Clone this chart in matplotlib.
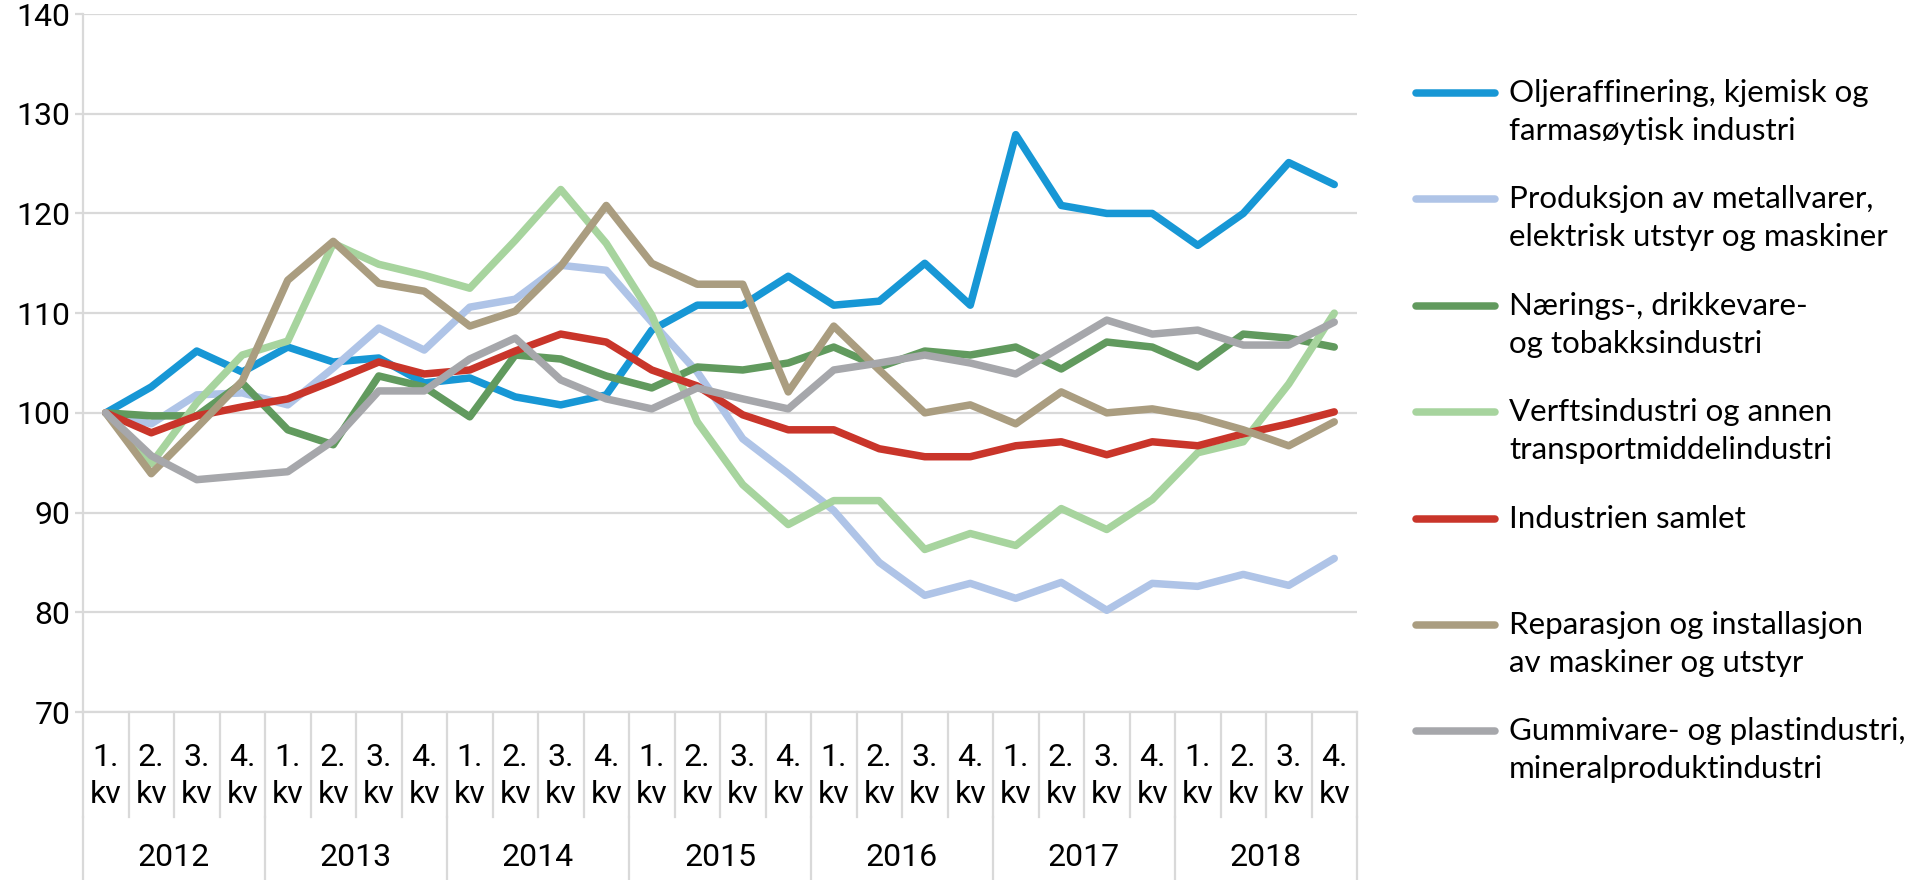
import numpy as np
import matplotlib
matplotlib.use("Agg")
import matplotlib.pyplot as plt
from matplotlib.lines import Line2D

years = ["2012", "2013", "2014", "2015", "2016", "2017", "2018"]
quarters = ["1.\nkv", "2.\nkv", "3.\nkv", "4.\nkv"]

olje = [100, 102.6, 106.2, 104.1, 106.6, 105.1, 105.5, 103.0, 103.5, 101.6, 100.8, 101.8, 108.3, 110.8,
        110.8, 113.7, 110.8, 111.2, 115.0, 110.8, 127.9, 120.8, 120.0, 120.0, 116.8, 120.0, 125.1, 122.9]
metall = [100, 98.9, 101.8, 102.0, 100.8, 104.5, 108.5, 106.3, 110.6, 111.4, 114.8, 114.3, 109.1, 104.1,
          97.4, 93.9, 90.2, 85.0, 81.7, 82.9, 81.4, 83.0, 80.2, 82.9, 82.6, 83.8, 82.7, 85.4]
naering = [100, 99.7, 99.7, 103.0, 98.3, 96.8, 103.7, 102.6, 99.6, 105.8, 105.4, 103.7, 102.5, 104.6,
           104.3, 105.0, 106.6, 104.6, 106.2, 105.8, 106.6, 104.4, 107.1, 106.6, 104.6, 107.9, 107.5, 106.6]
verft = [100, 94.9, 101.0, 105.8, 107.2, 117.0, 114.9, 113.8, 112.5, 117.3, 122.4, 117.0, 109.8, 99.1,
         92.8, 88.8, 91.2, 91.2, 86.3, 87.9, 86.7, 90.4, 88.3, 91.3, 96.0, 97.1, 102.9, 110.0]
samlet = [100, 98.0, 99.7, 100.6, 101.4, 103.2, 105.1, 103.9, 104.3, 106.2, 107.9, 107.1, 104.3, 102.7,
          99.8, 98.3, 98.3, 96.4, 95.6, 95.6, 96.7, 97.1, 95.8, 97.1, 96.7, 97.9, 98.9, 100.1]
reparasjon = [100, 93.9, 98.5, 103.2, 113.3, 117.2, 113.0, 112.2, 108.7, 110.2, 114.7, 120.8, 115.0, 112.9,
              112.9, 102.1, 108.7, 104.3, 100.0, 100.8, 98.9, 102.1, 100.0, 100.4, 99.6, 98.3, 96.7, 99.1]
gummi = [100, 95.7, 93.3, 93.7, 94.1, 97.2, 102.2, 102.2, 105.4, 107.5, 103.3, 101.4, 100.4, 102.5,
         101.4, 100.4, 104.3, 105.0, 105.8, 105.0, 103.9, 106.6, 109.3, 107.9, 108.3, 106.8, 106.8, 109.1]

labels = [
    "Oljeraffinering, kjemisk og\nfarmasøytisk industri",
    "Produksjon av metallvarer,\nelektrisk utstyr og maskiner",
    "Nærings-, drikkevare-\nog tobakksindustri",
    "Verftsindustri og annen\ntransportmiddelindustri",
    "Industrien samlet",
    "Reparasjon og installasjon\nav maskiner og utstyr",
    "Gummivare- og plastindustri,\nmineralproduktindustri",
]
series = [olje, metall, naering, verft, samlet, reparasjon, gummi]
colors = ["#1797d5", "#afc4e7", "#619a5e", "#a7d49e", "#c9352a", "#aa9d80", "#a6a7ab"]
# drawing order: later = on top
draw_order = [1, 3, 5, 6, 2, 4, 0]

W, H = 1920, 880
GRID = "#d9d9d9"
TICK_FONT = ["Roboto", "DejaVu Sans"]
LEG_FONT = ["Lato", "DejaVu Sans"]
TICK_SIZE = 23

fig = plt.figure(figsize=(W / 100, H / 100), dpi=100)
left, right, top, bottom = 83, 1357, 14, 712
ax = fig.add_axes([left / W, 1 - bottom / H, (right - left) / W, (bottom - top) / H])

n = len(olje)
x = np.arange(n)
for k in draw_order:
    ax.plot(x, series[k], color=colors[k], lw=5.4, solid_joinstyle="round",
            solid_capstyle="round", zorder=3 + k * 0.01)

ax.set_xlim(-0.5, n - 0.5)
ax.set_ylim(70, 140)
ax.set_yticks(np.arange(70, 141, 10))
ax.yaxis.grid(True, color=GRID, lw=1.6)
ax.set_axisbelow(True)
for s in ["top", "right"]:
    ax.spines[s].set_visible(False)
ax.spines["left"].set_color(GRID)
ax.spines["left"].set_linewidth(1.6)
ax.spines["bottom"].set_color(GRID)
ax.spines["bottom"].set_linewidth(1.6)
ax.tick_params(axis="y", length=6, width=1.6, color=GRID, pad=3, labelsize=TICK_SIZE)
for t in ax.get_yticklabels():
    t.set_family(TICK_FONT)
ax.set_xticks([])

# two-level category axis
tr = ax.get_xaxis_transform()
ah = bottom - top
def ay(py):
    return (bottom - py) / ah

for i in range(n):
    q = quarters[i % 4].split("\n")
    ax.text(i, ay(757), q[0], transform=tr, ha="center", va="center",
            fontsize=TICK_SIZE, family=TICK_FONT)
    ax.text(i, ay(794), q[1], transform=tr, ha="center", va="center",
            fontsize=TICK_SIZE, family=TICK_FONT)
for i in range(n + 1):
    ax.plot([i - 0.5, i - 0.5], [ay(712), ay(817)], transform=tr, color=GRID,
            lw=1.6, clip_on=False)
for j, yr in enumerate(years):
    ax.text(j * 4 + 1.5, ay(857), yr, transform=tr, ha="center", va="center",
            fontsize=TICK_SIZE, family=TICK_FONT)
for j in range(len(years) + 1):
    ax.plot([j * 4 - 0.5, j * 4 - 0.5], [ay(817), ay(880)], transform=tr,
            color=GRID, lw=1.6, clip_on=False)

# legend on the right
leg_y0, leg_dy, line_gap = 93, 106.4, 38
for k, lab in enumerate(labels):
    yc = leg_y0 + k * leg_dy
    fig.add_artist(Line2D([1416 / W, 1495 / W], [1 - yc / H, 1 - yc / H],
                          color=colors[k], lw=5.4, solid_capstyle="round"))
    for m, line in enumerate(lab.split("\n")):
        fig.text(1509 / W, 1 - (yc + m * line_gap) / H, line, ha="left",
                 va="center", fontsize=22.5, family=LEG_FONT)

fig.savefig("out.png", dpi=100)
